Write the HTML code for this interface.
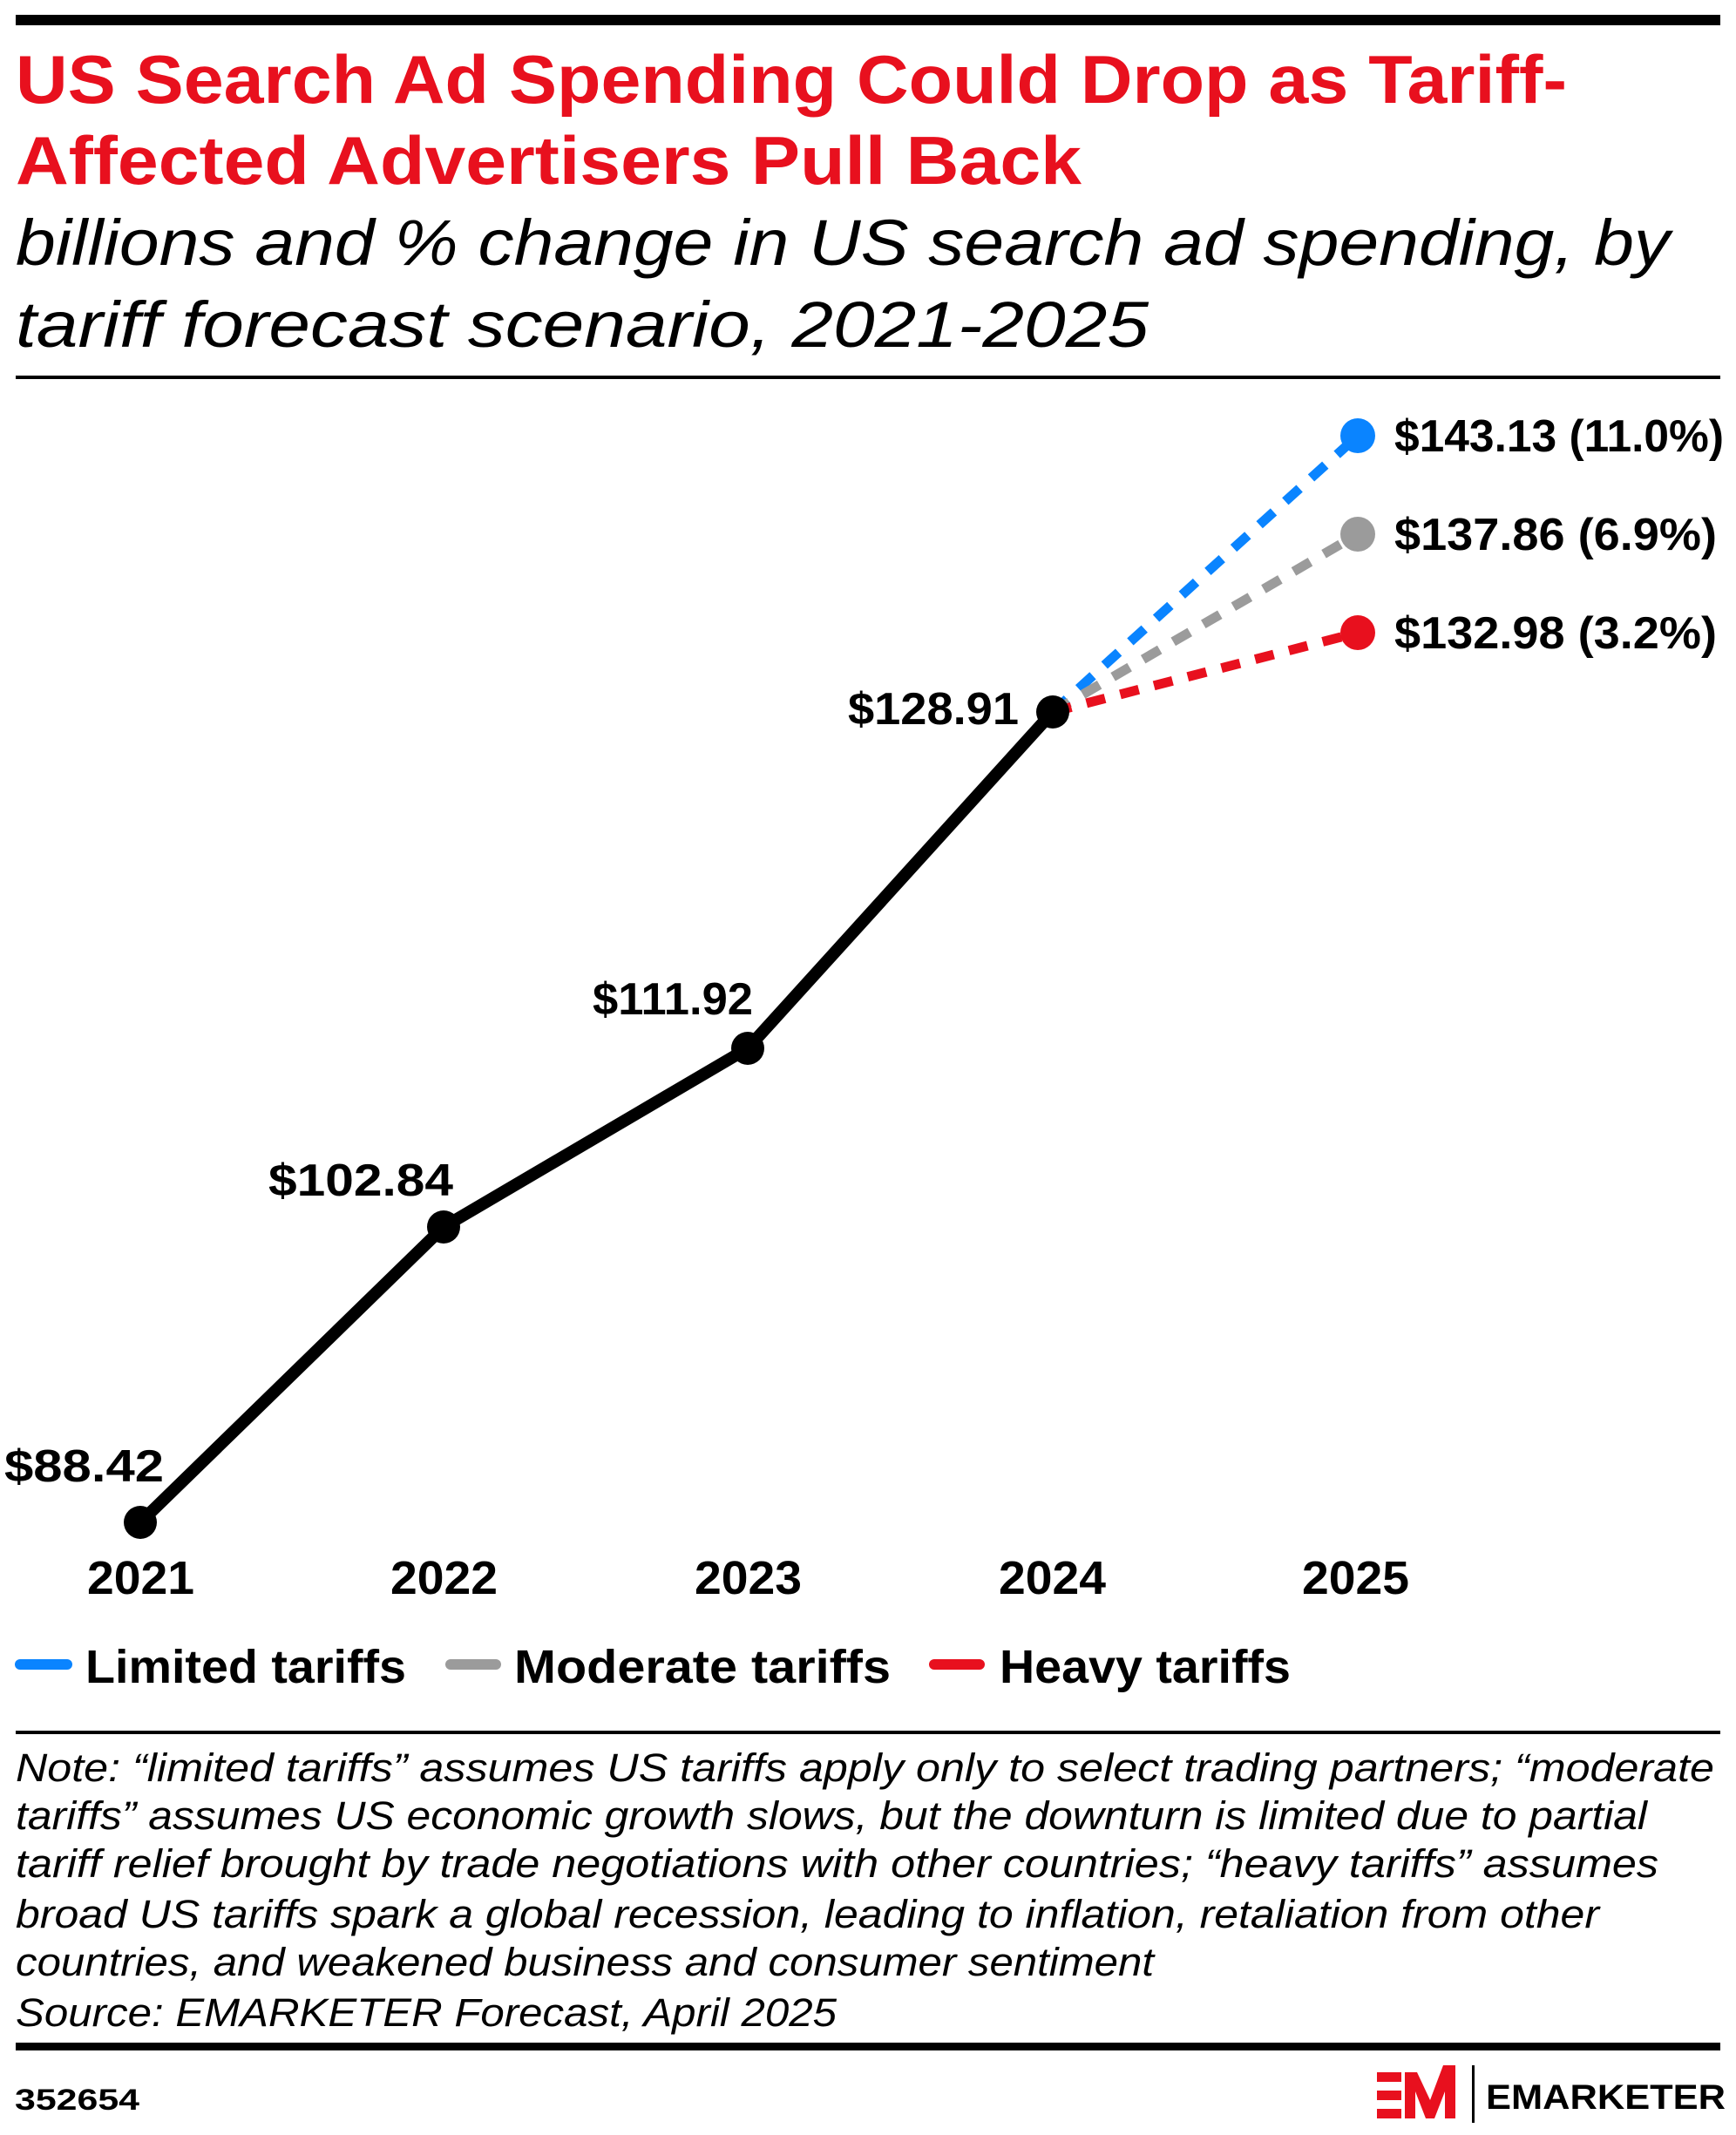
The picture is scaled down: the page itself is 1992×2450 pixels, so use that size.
<!DOCTYPE html>
<html><head><meta charset="utf-8"><style>
html,body{margin:0;padding:0;background:#fff;}
svg{display:block;}
text{font-family:"Liberation Sans",sans-serif;}
</style></head><body>
<svg width="1992" height="2450" viewBox="0 0 1992 2450" xmlns="http://www.w3.org/2000/svg">
<rect x="18" y="17" width="1956" height="12" fill="#000"/>
<g fill="#e8101e" font-weight="bold" font-size="78">
<text x="18" y="118" textLength="1780" lengthAdjust="spacingAndGlyphs">US Search Ad Spending Could Drop as Tariff-</text>
<text x="18" y="211" textLength="1223" lengthAdjust="spacingAndGlyphs">Affected Advertisers Pull Back</text>
</g>
<g fill="#000" font-style="italic" font-size="74">
<text x="18" y="304" textLength="1898" lengthAdjust="spacingAndGlyphs">billions and % change in US search ad spending, by</text>
<text x="18" y="398" textLength="1300" lengthAdjust="spacingAndGlyphs">tariff forecast scenario, 2021-2025</text>
</g>
<rect x="18" y="431" width="1956" height="4" fill="#000"/>

<g stroke-width="11" fill="none" stroke-dasharray="22 18">
<line x1="1208" y1="817" x2="1558" y2="500" stroke="#0a84ff"/>
<line x1="1208" y1="817" x2="1558" y2="613" stroke="#9b9b9b"/>
<line x1="1208" y1="817" x2="1558" y2="726" stroke="#e8101e"/>
</g>
<circle cx="1558" cy="500" r="20" fill="#0a84ff"/>
<circle cx="1558" cy="613" r="20" fill="#9b9b9b"/>
<circle cx="1558" cy="726" r="20" fill="#e8101e"/>

<polyline points="161,1747 509,1408 858,1203 1208,817" fill="none" stroke="#000" stroke-width="14" stroke-linejoin="round"/>
<g fill="#000">
<circle cx="161" cy="1747" r="19"/><circle cx="509" cy="1408" r="19"/>
<circle cx="858" cy="1203" r="19"/><circle cx="1208" cy="817" r="19"/>
</g>

<g fill="#000" font-weight="bold" font-size="52">
<text x="1600" y="518" textLength="378" lengthAdjust="spacingAndGlyphs">$143.13 (11.0%)</text>
<text x="1600" y="631" textLength="370" lengthAdjust="spacingAndGlyphs">$137.86 (6.9%)</text>
<text x="1600" y="744" textLength="370" lengthAdjust="spacingAndGlyphs">$132.98 (3.2%)</text>
<text x="973" y="831" textLength="196" lengthAdjust="spacingAndGlyphs">$128.91</text>
<text x="680" y="1164" textLength="184" lengthAdjust="spacingAndGlyphs">$111.92</text>
<text x="308" y="1372" textLength="212" lengthAdjust="spacingAndGlyphs">$102.84</text>
<text x="5" y="1700" textLength="183" lengthAdjust="spacingAndGlyphs">$88.42</text>
</g>
<g fill="#000" font-weight="bold" font-size="54">
<text x="100" y="1829" textLength="123" lengthAdjust="spacingAndGlyphs">2021</text>
<text x="448" y="1829" textLength="123" lengthAdjust="spacingAndGlyphs">2022</text>
<text x="797" y="1829" textLength="123" lengthAdjust="spacingAndGlyphs">2023</text>
<text x="1146" y="1829" textLength="123" lengthAdjust="spacingAndGlyphs">2024</text>
<text x="1494" y="1829" textLength="123" lengthAdjust="spacingAndGlyphs">2025</text>
</g>

<g stroke-width="12" stroke-linecap="round">
<line x1="23" y1="1910" x2="77" y2="1910" stroke="#0a84ff"/>
<line x1="517" y1="1910" x2="569" y2="1910" stroke="#9b9b9b"/>
<line x1="1072" y1="1910" x2="1124" y2="1910" stroke="#e8101e"/>
</g>
<g fill="#000" font-weight="bold" font-size="54">
<text x="98" y="1931" textLength="368" lengthAdjust="spacingAndGlyphs">Limited tariffs</text>
<text x="590" y="1931" textLength="432" lengthAdjust="spacingAndGlyphs">Moderate tariffs</text>
<text x="1147" y="1931" textLength="334" lengthAdjust="spacingAndGlyphs">Heavy tariffs</text>
</g>

<rect x="18" y="1986" width="1956" height="4" fill="#000"/>
<g fill="#000" font-style="italic" font-size="45">
<text x="18" y="2044" textLength="1949" lengthAdjust="spacingAndGlyphs">Note: “limited tariffs” assumes US tariffs apply only to select trading partners; “moderate</text>
<text x="18" y="2099" textLength="1872" lengthAdjust="spacingAndGlyphs">tariffs” assumes US economic growth slows, but the downturn is limited due to partial</text>
<text x="18" y="2154" textLength="1885" lengthAdjust="spacingAndGlyphs">tariff relief brought by trade negotiations with other countries; “heavy tariffs” assumes</text>
<text x="18" y="2212" textLength="1817" lengthAdjust="spacingAndGlyphs">broad US tariffs spark a global recession, leading to inflation, retaliation from other</text>
<text x="18" y="2267" textLength="1306" lengthAdjust="spacingAndGlyphs">countries, and weakened business and consumer sentiment</text>
<text x="18" y="2325" textLength="942" lengthAdjust="spacingAndGlyphs">Source: EMARKETER Forecast, April 2025</text>
</g>
<rect x="18" y="2344" width="1956" height="9" fill="#000"/>
<text x="17" y="2421" font-weight="bold" font-size="34" textLength="143" lengthAdjust="spacingAndGlyphs">352654</text>
<g fill="#e8101e">
<rect x="1580" y="2378" width="28" height="11"/>
<rect x="1580" y="2399" width="28" height="11"/>
<rect x="1580" y="2420" width="28" height="11"/>
<polygon points="1612,2431 1612,2378 1626,2378 1641,2410 1656,2370 1670,2370 1670,2431 1658,2431 1658,2400 1646,2431 1636,2431 1624,2400 1624,2431"/>
</g>
<rect x="1689" y="2370" width="3" height="66" fill="#000"/>
<text x="1705" y="2420" font-weight="bold" font-size="40" textLength="275" lengthAdjust="spacingAndGlyphs">EMARKETER</text>
</svg>
</body></html>
